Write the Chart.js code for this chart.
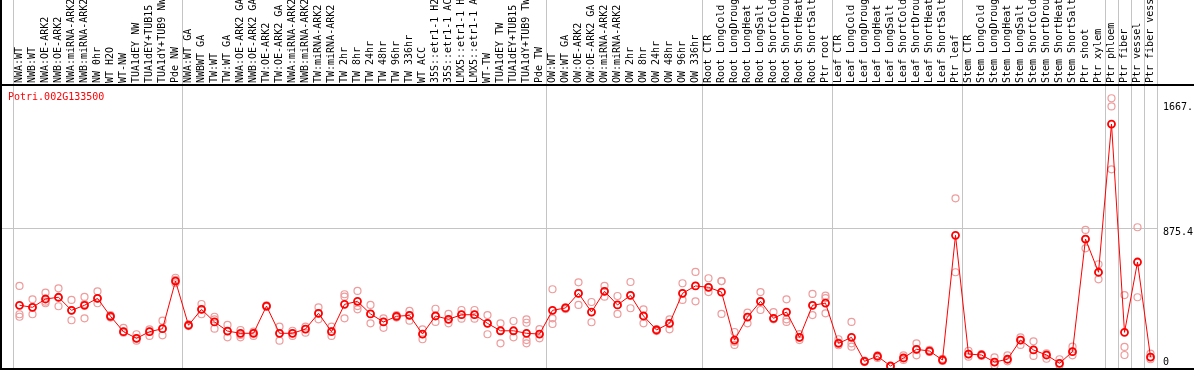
<!DOCTYPE html>
<html>
<head>
<meta charset="utf-8">
<script src="https://cdn.jsdelivr.net/npm/chart.js@4/dist/chart.umd.min.js"></script>
<style>
html,body{margin:0;padding:0;background:#fff;}
canvas{display:block;}
</style>
</head>
<body>
<canvas id="c" width="1194" height="370"></canvas>
<script>
const geneName = 'Potri.002G133500';

const categories = [
 'NWA:WT','NWB:WT','NWA:OE-ARK2','NWB:OE-ARK2','NWA:miRNA-ARK2','NWB:miRNA-ARK2','NW 0hr','WT H2O','WT-NW','TUA1dEY NW','TUA1dEY+TUB15','TUA1dY+TUB9 NW','Pde NW',
 'NWA:WT GA','NWBWT GA','TW:WT','TW:WT GA','NWA:OE-ARK2 GA','NWB:OE-ARK2 GA','TW:OE-ARK2','TW:OE-ARK2 GA','NWA:miRNA-ARK2','NWB:miRNA-ARK2','TW:miRNA-ARK2','TW:miRNA-ARK2',
 'TW 2hr','TW 8hr','TW 24hr','TW 48hr','TW 96hr','TW 336hr','WT ACC','35S::etr1-1 H2','35S::etr1-1 AC','LMX5::etr1-1 H','LMX5::etr1-1 A','WT-TW','TUA1dEY TW','TUA1dEY+TUB15','TUA1dY+TUB9 TW','Pde TW',
 'OW:WT','OW:WT GA','OW:OE-ARK2','OW:OE-ARK2 GA','OW:miRNA-ARK2','OW:miRNA-ARK2','OW 2hr','OW 8hr','OW 24hr','OW 48hr','OW 96hr','OW 336hr',
 'Root CTR','Root LongCold','Root LongDroug','Root LongHeat','Root LongSalt','Root ShortCold','Root ShortDrou','Root ShortHeat','Root ShortSalt','Ptr root',
 'Leaf CTR','Leaf LongCold','Leaf LongDroug','Leaf LongHeat','Leaf LongSalt','Leaf ShortCold','Leaf ShortDrou','Leaf ShortHeat','Leaf ShortSalt','Ptr leaf',
 'Stem CTR','Stem LongCold','Stem LongDroug','Stem LongHeat','Stem LongSalt','Stem ShortCold','Stem ShortDrou','Stem ShortHeat','Stem ShortSalt','Ptr shoot','Ptr xylem',
 'Ptr phloem','Ptr fiber','Ptr vessel','Ptr fiber vess'
];

// group separators: category index before which a vertical line is drawn
const groupStarts = [0, 13, 41, 53, 63, 73, 84, 85, 86, 87];

const meanValues = [
 386,373,426,437,354,386,430,316,218,176,218,237,540,
 259,360,280,222,208,208,381,208,208,235,335,218,
 392,411,331,280,316,322,203,318,297,326,326,271,224,224,208,203,
 354,369,462,343,475,388,449,318,229,271,462,509,
 500,470,165,311,411,303,343,182,386,400,
 144,182,30,62,0,51,106,95,38,831,
 76,70,25,43,165,102,70,17,91,807,596,
 1538,214,661,57
];

const rep1 = [
 509,424,466,494,420,439,475,324,243,202,233,288,561,
 265,394,313,261,229,218,386,250,224,250,373,250,
 456,477,388,303,324,350,233,364,331,356,356,324,271,286,297,235,
 488,373,532,407,510,445,534,360,235,297,526,598,
 558,540,216,339,470,343,424,203,458,447,
 170,280,34,68,0,68,144,102,46,1066,
 97,76,55,68,182,157,81,43,123,865,647,
 1702,451,882,79
];
const rep2 = [
 329,373,409,434,354,394,430,316,218,176,218,237,547,
 259,360,297,222,197,208,381,208,208,235,335,222,
 441,381,331,280,316,322,203,318,297,326,326,271,224,224,275,203,
 303,364,462,343,475,388,449,318,229,271,462,509,
 500,540,154,311,411,303,297,182,386,432,
 148,144,30,62,0,51,106,95,38,596,
 76,70,25,43,165,102,70,17,91,807,596,
 1650,121,437,57
];
const rep3 = [
 313,329,399,380,291,303,399,308,212,161,191,195,526,
 254,329,237,182,182,191,375,161,191,212,297,191,
 303,360,271,243,308,288,170,280,271,301,301,202,144,182,165,176,
 267,362,388,278,441,331,367,271,222,233,420,411,
 470,331,134,271,356,297,280,165,324,335,
 132,123,25,51,0,38,68,89,32,null,
 59,64,4,30,134,64,46,4,68,748,551,
 1250,70,null,43
];
const rep4 = categories.map((c, i) => (i === 39 ? 144 : null));

const yMin = -12.7;
const yMax = 1780;
const yTickValues = [0, 875.4, 1667.5];
const yTickLabels = [['0', ''], ['', '875.4'], ['', '1667.']];
const yGridValue = 875.4;

const MONO = '"DejaVu Sans Mono", "Liberation Mono", monospace';
const repColor = '#ee9c9c';
const gridGray = '#c4c4c4';

function repDataset(values) {
  return {
    type: 'line',
    data: values,
    showLine: false,
    pointRadius: 3.5,
    pointHoverRadius: 3.5,
    pointBorderWidth: 1.2,
    pointBorderColor: repColor,
    pointBackgroundColor: 'rgba(0,0,0,0)',
    borderColor: repColor,
    clip: false
  };
}

const framePlugin = {
  id: 'frame',
  beforeDraw(chart) {
    const ctx = chart.ctx;
    ctx.save();
    ctx.fillStyle = '#ffffff';
    ctx.fillRect(0, 0, chart.width, chart.height);
    ctx.restore();
  },
  beforeDatasetsDraw(chart) {
    const ctx = chart.ctx;
    const ys = chart.scales.y;
    const yy = Math.round(ys.getPixelForValue(yGridValue)) + 0.5;
    ctx.save();
    ctx.strokeStyle = gridGray;
    ctx.lineWidth = 1;
    ctx.beginPath();
    ctx.moveTo(2, yy);
    ctx.lineTo(chart.chartArea.left, yy);
    ctx.stroke();
    ctx.restore();
  },
  afterDraw(chart) {
    const ctx = chart.ctx;
    const top = chart.chartArea.top;
    const bottom = chart.chartArea.bottom;
    ctx.save();
    ctx.fillStyle = '#000000';
    ctx.fillRect(0, top - 2, chart.width, 2);
    ctx.fillRect(0, bottom, chart.width, 2);
    ctx.fillRect(0, 0, 2, chart.height);
    ctx.fillStyle = '#ff0000';
    ctx.font = '10px ' + MONO;
    ctx.textBaseline = 'middle';
    ctx.textAlign = 'left';
    ctx.fillText(geneName, 8, top + 11);
    ctx.restore();
  }
};

function zeroPadding(scale) {
  scale.paddingTop = 0;
  scale.paddingBottom = 0;
  scale.paddingLeft = 0;
  scale.paddingRight = 0;
}

new Chart(document.getElementById('c'), {
  type: 'line',
  data: {
    labels: categories,
    datasets: [
      {
        data: meanValues,
        borderColor: '#ff0000',
        borderWidth: 1,
        tension: 0,
        pointRadius: 3.5,
        pointHoverRadius: 3.5,
        pointBorderWidth: 1.8,
        pointBorderColor: '#ff0000',
        pointBackgroundColor: 'rgba(0,0,0,0)',
        clip: false
      },
      repDataset(rep1),
      repDataset(rep2),
      repDataset(rep3),
      repDataset(rep4)
    ]
  },
  options: {
    responsive: false,
    animation: false,
    events: [],
    layout: { autoPadding: false, padding: { left: 13, right: 0, top: 0, bottom: 2 } },
    plugins: { legend: { display: false }, tooltip: { enabled: false }, title: { display: false } },
    scales: {
      x: {
        type: 'category',
        position: 'top',
        offset: true,
        border: { display: false },
        grid: {
          offset: true,
          drawOnChartArea: true,
          drawTicks: true,
          tickLength: 86,
          lineWidth: 1,
          color: (ctx) => {
            if (ctx.type !== 'tick') return gridGray;
            return groupStarts.includes(ctx.index) ? gridGray : 'rgba(0,0,0,0)';
          }
        },
        ticks: {
          autoSkip: false,
          minRotation: 90,
          maxRotation: 90,
          padding: -83,
          labelOffset: 10,
          color: '#000000',
          font: { family: MONO, size: 10, lineHeight: 1 }
        },
        afterFit: (scale) => { scale.height = 86; zeroPadding(scale); }
      },
      y: {
        type: 'linear',
        position: 'right',
        min: yMin,
        max: yMax,
        border: { display: false },
        afterBuildTicks: (scale) => { scale.ticks = yTickValues.map(v => ({ value: v })); },
        grid: {
          drawTicks: false,
          lineWidth: 1,
          color: (ctx) => (ctx.tick && ctx.tick.value === yGridValue ? gridGray : 'rgba(0,0,0,0)')
        },
        ticks: {
          padding: 6,
          color: '#000000',
          font: { family: MONO, size: 10, lineHeight: 0.8 },
          callback: (value, index) => yTickLabels[index]
        },
        afterFit: (scale) => { scale.width = 37; zeroPadding(scale); }
      }
    }
  },
  plugins: [framePlugin]
});
</script>
</body>
</html>
